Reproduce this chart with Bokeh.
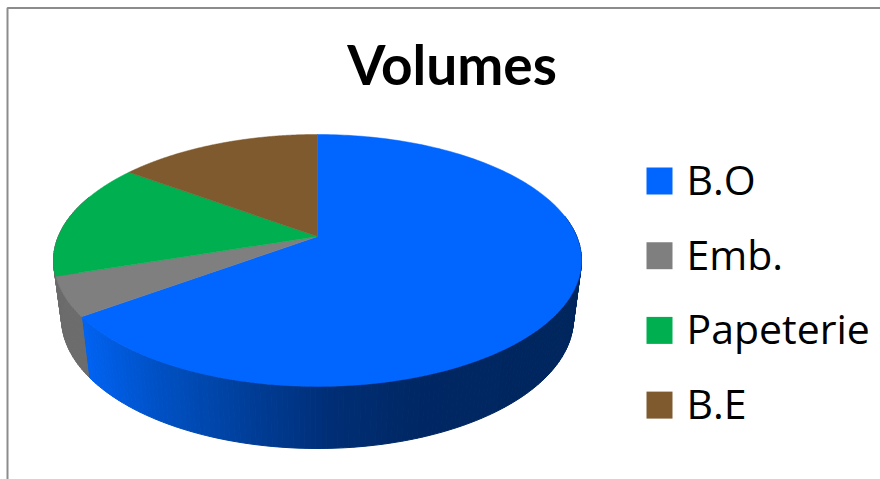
import numpy as np
from bokeh.plotting import figure
from bokeh.embed import file_html
from bokeh.resources import INLINE
from bokeh.core.properties import value

title_text = "Volumes"
categories = ["B.O", "Emb.", "Papeterie", "B.E"]
volumes = [65, 5, 15, 15]
colors = ["#0066FF", "#7F7F7F", "#00B050", "#7F5A2E"]
side_colors = [None, "#6C6C6C", "#6C6C6C", "#6C4C27"]

# perspective projection of the pie disc
K = 0.19
CX = 317.0
TOP = dict(a=259.2, b=121.4, y0=236.0)
BOTTOM = dict(a=251.3, b=125.3, y0=293.3)


def project(theta, plane):
    u, v = np.sin(theta), -np.cos(theta)
    d = 1 - K * v
    return CX + plane["a"] * u / d, plane["y0"] + plane["b"] * v / d


def blue_shade(x):
    xs = [85, 150, 250, 330, 420, 580]
    g = np.interp(x, xs, [98, 82, 62, 46, 40, 38])
    b = np.interp(x, xs, [240, 200, 152, 118, 100, 94])
    return "#00%02X%02X" % (int(g), int(b))


p = figure(width=880, height=479, x_range=(0, 880), y_range=(479, 0),
           output_backend="svg", toolbar_location=None, min_border=0,
           x_axis_location=None, y_axis_location=None, outline_line_color=None)
p.grid.visible = False

edges = np.radians(np.cumsum([0] + volumes) / sum(volumes) * 360)

# side wall (front half only, the top disc covers the rest)
xs, ys, fills = [], [], []
for i in range(len(volumes) - 1):
    lo, hi = max(edges[i], np.radians(80)), min(edges[i + 1], np.radians(290))
    if hi <= lo:
        continue
    t = np.linspace(lo, hi, max(2, int((hi - lo) / np.radians(1.0))))
    for a, b in zip(t[:-1], t[1:]):
        xa, ya = project(np.array([a, b]), TOP)
        xb, yb = project(np.array([b, a]), BOTTOM)
        xs.append(list(xa) + list(xb))
        ys.append(list(ya) + list(yb))
        fills.append(blue_shade(xa.mean()) if i == 0 else side_colors[i])
p.patches(xs, ys, fill_color=fills, line_color=fills, line_width=1.0)

# top disc
tx, ty = [], []
for i in range(len(volumes)):
    t = np.linspace(edges[i], edges[i + 1], 200)
    x, y = project(t, TOP)
    tx.append([CX] + list(x))
    ty.append([TOP["y0"]] + list(y))
p.patches(tx, ty, fill_color=colors, line_color=colors, line_width=0.5)

# frame of the chart area (left and top edges)
p.line([7, 7, 880], [479, 7.5, 7.5], line_color="#8C8C8C", line_width=2)

# title
p.text([451.5], [63], text=[title_text], text_font=value("Lato"), text_font_style="bold",
       text_font_size="55px", text_align="center", text_baseline="middle", text_color="#000000")

# legend
rows = 180.5 + 74.7 * np.arange(len(categories))
p.rect(x=[659] * len(categories), y=rows, width=26, height=27, fill_color=colors, line_color=None)
p.text([686] * len(categories), rows - 2, text=categories, text_font=value("Open Sans"),
       text_font_size="41px", text_align="left", text_baseline="middle", text_color="#000000")

open("out.html", "w").write(file_html(p, INLINE))
